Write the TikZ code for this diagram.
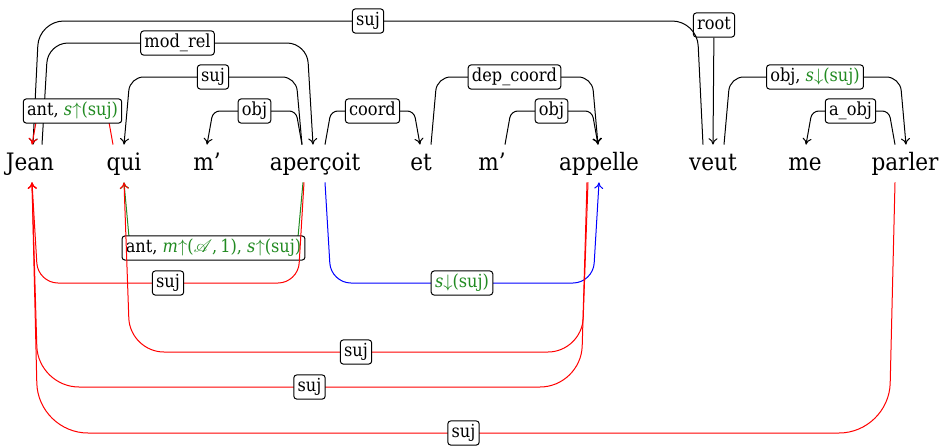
\documentclass[tikz,border=0pt]{standalone}
\usepackage{fontspec}
\setmainfont{DejaVu Serif Condensed}
\usepackage{mathrsfs}
\usetikzlibrary{arrows.meta,calc}
\definecolor{dgreen}{RGB}{34,139,34}
% #1 options, #2 left anchor, #3 left shift, #4 right anchor, #5 right shift, #6 level (px), #7 label
\newcommand{\deparc}[7]{%
  \path ([xshift=#3]#2) coordinate (L) ([xshift=#5]#4) coordinate (R);
  \draw[dep,#1] (L) -- ([xshift=3pt]L |- 0,#6) -- node[lab]{#7} ([xshift=-3pt]R |- 0,#6) -- (R);}
\begin{document}
\begin{tikzpicture}[x=0.5pt,y=-0.5pt,
  word/.style={font=\fontsize{12}{15}\selectfont, inner sep=0pt, text height=12.5pt, text depth=6pt, anchor=base},
  lab/.style={draw=black, text=black, fill=white, rounded corners=1.5pt, line width=0.5pt,
    font=\fontsize{9}{11}\selectfont, inner xsep=1.9pt, inner ysep=1.5pt, text height=6.9pt, text depth=2.2pt},
  dep/.style={line width=0.5pt, >={To[length=3.2pt,width=4.5pt]}}]
\useasboundingbox (0,0) rectangle (948,446);
% words
\node[word] (jean) at (30,170) {Jean};
\node[word] (qui) at (124,170) {qui};
\node[word] (m1) at (207,170) {m’};
\node[word] (aperc) at (315,170) {aperçoit};
\node[word] (et) at (421,170) {et};
\node[word] (m2) at (492,170) {m’};
\node[word] (appelle) at (599,170) {appelle};
\node[word] (veut) at (713,170) {veut};
\node[word] (me) at (805,170) {me};
\node[word] (parler) at (905,170) {parler};
% root
\node[lab] (root) at (714,25) {root};
\draw[dep,->] (root) -- (veut.north);
% black upper arcs
\deparc{<-,rounded corners=12.4pt}{jean.north}{1.5pt}{veut.north}{-5pt}{21}{suj}
\deparc{->,rounded corners=10pt}{jean.north}{6pt}{aperc.north}{-1pt}{43}{mod\_rel}
\deparc{<-,rounded corners=6.8pt}{qui.north}{0pt}{aperc.north}{-6.5pt}{77}{suj}
\deparc{<-,rounded corners=3.4pt}{m1.north}{0pt}{aperc.north}{-6.5pt}{111}{obj}
\deparc{->,rounded corners=3.4pt}{aperc.north}{5pt}{et.north}{-0.5pt}{111}{coord}
\deparc{->,rounded corners=6.8pt}{et.north}{5pt}{appelle.north}{-0.5pt}{77}{dep\_coord}
\deparc{->,rounded corners=3.4pt}{m2.north}{6.5pt}{appelle.north}{-0.5pt}{111}{obj}
\deparc{->,rounded corners=6.8pt}{veut.north}{5.5pt}{parler.north}{0.5pt}{77}{obj, \textcolor{dgreen}{\textit{s}$\downarrow$(suj)}}
\deparc{<-,rounded corners=3.4pt}{me.north}{0.5pt}{parler.north}{-5pt}{111}{a\_obj}
% red upper arc
\deparc{<-,red,rounded corners=3.4pt}{jean.north}{1pt}{qui.north}{-5.5pt}{111}{ant, \textcolor{dgreen}{\textit{s}$\uparrow$(suj)}}
% lower arcs
\deparc{<-,dgreen,rounded corners=6.6pt}{qui.south}{0pt}{aperc.south}{-6pt}{248}{ant, \textcolor{dgreen}{\textit{m}$\uparrow$($\mathscr{A}$,\,1), \textit{s}$\uparrow$(suj)}}
\deparc{->,blue,rounded corners=10pt}{aperc.south}{5pt}{appelle.south}{0pt}{283}{\textcolor{dgreen}{\textit{s}$\downarrow$(suj)}}
\deparc{<-,red,rounded corners=10pt}{jean.south}{1pt}{aperc.south}{-5.5pt}{283}{suj}
\deparc{<-,red,rounded corners=17pt}{qui.south}{0pt}{appelle.south}{-5.5pt}{352}{suj}
\deparc{<-,red,rounded corners=20.5pt}{jean.south}{1pt}{appelle.south}{-6pt}{387}{suj}
\deparc{<-,red,rounded corners=25pt}{jean.south}{1pt}{parler.south}{-5pt}{433}{suj}
\end{tikzpicture}
\end{document}
